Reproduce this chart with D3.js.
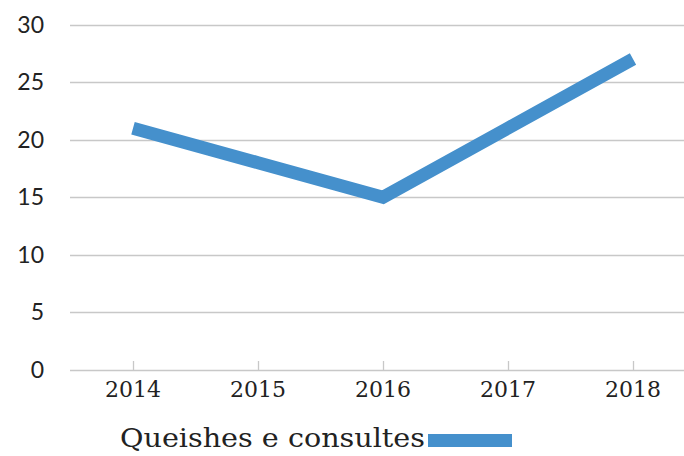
<!DOCTYPE html>
<html>
<head>
<meta charset="utf-8">
<script src="https://cdn.jsdelivr.net/npm/d3@7"></script>
<style>
  body { margin: 0; background: #fff; }
</style>
</head>
<body>
<div class="chart-container"></div>
<script>
// data
const years = ["2014", "2015", "2016", "2017", "2018"];
const values = [21, 18, 15, 21, 27];
const yTicks = [0, 5, 10, 15, 20, 25, 30];
const seriesName = "Queishes e consultes";

const width = 684;
const height = 456;
const margin = { top: 24, right: 0, bottom: 86, left: 70 };
const lineColor = "#4590cc";

const svg = d3.select(".chart-container").append("svg")
    .attr("width", width)
    .attr("height", height);

const x = d3.scalePoint()
    .domain(years)
    .range([133, 633]);

const y = d3.scaleLinear()
    .domain([0, 30])
    .range([370, 24.5]);

// gridlines
svg.append("g")
    .selectAll("line")
    .data(yTicks)
    .join("line")
    .attr("x1", margin.left)
    .attr("x2", width)
    .attr("y1", d => Math.round(y(d)) + 0.5)
    .attr("y2", d => Math.round(y(d)) + 0.5)
    .attr("stroke", "#c8c8c8")
    .attr("stroke-width", 1.3);

// y labels
svg.append("g")
    .selectAll("text")
    .data(yTicks)
    .join("text")
    .attr("x", 44)
    .attr("y", d => y(d))
    .attr("dy", "0.35em")
    .attr("text-anchor", "end")
    .attr("font-family", "Lato, sans-serif")
    .attr("font-size", 23)
    .attr("fill", "#222")
    .text(d => d);

// x tick marks
svg.append("g")
    .selectAll("line")
    .data(years)
    .join("line")
    .attr("x1", d => x(d) + 0.5)
    .attr("x2", d => x(d) + 0.5)
    .attr("y1", y(0))
    .attr("y2", y(0) - 9)
    .attr("stroke", "#c8c8c8")
    .attr("stroke-width", 1.3);

// x labels
svg.append("g")
    .selectAll("text")
    .data(years)
    .join("text")
    .attr("x", d => x(d))
    .attr("y", 397)
    .attr("text-anchor", "middle")
    .attr("font-family", "DejaVu Serif, serif")
    .attr("font-size", 22)
    .attr("fill", "#222")
    .text(d => d);

// the series
const line = d3.line()
    .x((d, i) => x(years[i]))
    .y(d => y(d));

svg.append("path")
    .datum(values)
    .attr("d", line)
    .attr("fill", "none")
    .attr("stroke", lineColor)
    .attr("stroke-width", 13)
    .attr("stroke-linejoin", "miter");

// legend
const legend = svg.append("g");

legend.append("text")
    .attr("x", 120)
    .attr("y", 447)
    .attr("font-family", "DejaVu Serif, serif")
    .attr("font-size", 26)
    .attr("textLength", 305)
    .attr("lengthAdjust", "spacingAndGlyphs")
    .attr("fill", "#222")
    .text(seriesName);

legend.append("rect")
    .attr("x", 428)
    .attr("y", 434)
    .attr("width", 84)
    .attr("height", 13)
    .attr("fill", lineColor);
</script>
</body>
</html>
